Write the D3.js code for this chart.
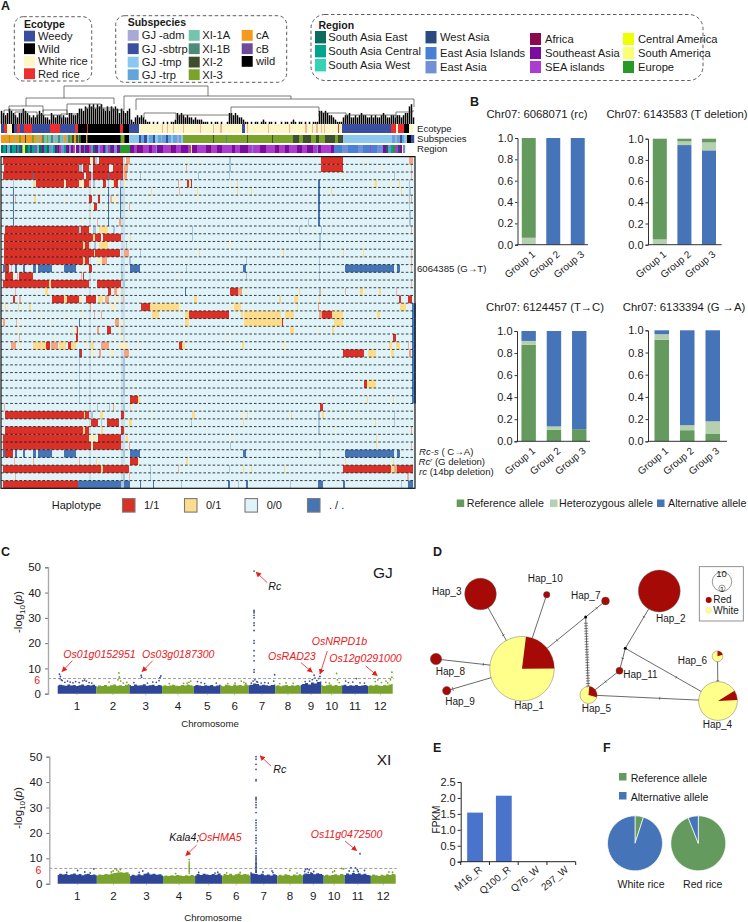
<!DOCTYPE html>
<html>
<head>
<meta charset="utf-8">
<script src="https://cdn.jsdelivr.net/npm/d3@7"></script>
<style>
html,body{margin:0;padding:0;background:#fff;}
svg{display:block;}
text{font-family:"Liberation Sans",Arial,sans-serif;fill:#1a1a1a;}
</style>
</head>
<body>
<div id="fig"></div>
<script>
// panel A legends
var ecotypeNames = ["Weedy","Wild","White rice","Red rice"];
var ecotypeColors = ["#3a4ea0","#000000","#fdf6c8","#ee2e2e"];
var subspeciesNames = ["GJ -adm","GJ -sbtrp","GJ -tmp","GJ -trp","XI-1A","XI-1B","XI-2","XI-3","cA","cB","wild"];
var subspeciesColors = ["#a9a9d8","#3a4ea0","#8cc8ee","#62a4dc","#74c4ae","#4e8a78","#3f4f2c","#7aa32a","#f59a1c","#6f4a9c","#000000"];
var regionNames = ["South Asia East","South Asia Central","South Asia West","West Asia","East Asia Islands","East Asia","Africa","Southeast Asia","SEA islands","Central America","South America","Europe"];
var regionColors = ["#0b6b5c","#00a58c","#35d2b8","#2a4a80","#4880d8","#7090d8","#8a0a50","#7e0ba0","#ac3bd0","#eeff00","#f8ff70","#259a25"];

// annotation strips, run lengths in samples
var ecotypeStrip = "W3 R3 C5 K2 W3 R3 W4 R8 W5 W13 R4 R6 W2 W13 R3 K9 R1 K32 R3 K6 W10 C23 P1 C4 P1 C5 P1 C9 P1 C16 P1 C12 P1 C6 P2 C20 W3 C2 P1 C20 P1 C20 P1 C15 P2 C5 P1 C3 P2 C3 P1 C2 P1 C13 R1 C3 W49 R5 C2 R6 K5 C4";
var subspeciesStrip = "A8 g1 A5 p1 A3 g2 A4 x1 A6 g2 A3 p2 A3 q2 p3 g1 p3 q2 a2 p3 q2 p3 a1 A2 p2 q2 g2 x2 A2 x2 g1 x2 K5 A1 x1 K32 x1 g3 x1 K4 m10 s2 t3 s3 m2 t4 s2 m3 t3 a1 t4 s2 t3 m2 t4 a2 t2 m2 g30 x1 g12 q1 g20 x1 g24 x1 g20 x6 g4 x8 g5 x3 g6 x10 g3 x5 m49 t3 a2 t3 s2 t2 m3 K4 s3";
var regionStrip = "e2 c3 u1 w3 n2 c4 u1 c2 e2 u1 w1 y2 e3 c2 n2 c3 l2 w2 e3 u2 c3 e2 j3 w1 c2 u2 e1 f1 l2 j3 c2 u2 f1 j2 u2 l2 z1 u3 j2 f1 u2 c1 u3 f1 l2 j2 e2 u3 j2 l3 u2 c1 j2 l2 e1 u3 j3 u3 E10 u4 l3 f1 u5 l6 u3 l4 j1 u6 l8 f1 u4 l5 u7 l3 y1 u5 l9 u4 f1 l6 u5 l10 u3 l5 u8 l4 j1 l7 u6 l9 u3 f1 l6 u4 l8 u5 l5 u6 l4 j1 u3 l10 u3 i8 j6 i10 j5 i7 l1 i6 j6 u3 e2 j3 c2 E2 l3 n2 u2 z1 j2";
var ecotypeCodes = {W:"#3a4ea0",K:"#000000",C:"#fdf6c8",R:"#ee2e2e",P:"#f6b59a"};
var subspeciesCodes = {a:"#a9a9d8",s:"#3a4ea0",m:"#8cc8ee",t:"#62a4dc",p:"#74c4ae",q:"#4e8a78",x:"#3f4f2c",g:"#7aa32a",A:"#f59a1c",B:"#6f4a9c",K:"#000000"};
var regionCodes = {e:"#0b6b5c",c:"#00a58c",w:"#35d2b8",n:"#2a4a80",i:"#4880d8",j:"#7090d8",f:"#8a0a50",u:"#7e0ba0",l:"#ac3bd0",y:"#eeff00",z:"#f8ff70",E:"#259a25"};

// dendrogram: stem height per two samples, and merges [from,to,height,leftDrop,rightDrop]
var dendroStems = "654576543557654343465433254344343355445" + "77687989798976868787576567" + "21343432110101001010112" + "5454343323222111" + "0101101001" + "554543321" + "101011012101101001011012101101010111" + "665654432111" + "34453343454433434334543344344" + "3455893";
var dendroMerges = [[63,207,38,26,28],[25,113,26,18,20],[123,290,28,16,25],[8,42,18,12,12],[42,66,14,8,9],[3,22,14,9,8],[66,100,20,9,15],[85,113,16,13,16],[135,413,25,14,17],[230,318,17,8,12],[143,175,11,6,5],[178,230,9,4,6],[318,345,11,8,8],[345,395,9,5,6],[100,123,14,14,16],[395,412,12,6,14],[14,36,12,6,5],[36,60,9,5,6],[60,78,10,5,5]];

// heatmap rows: code start-end in samples
var heatRows = [
"r2-89 q89-92 r92-94 f94-96 r98-122 o125-129 q185-186 q199-200 f228-230 q363-364 r320-342 o408-412",
"r3-78 f78-81 r82-88 r92-108 r112-122 o123-127 p185-186 f228-230 r320-342 q380-381 p410-411",
"r2-32 b32-33 r33-83 r85-90 f90-92 r92-107 b107-108 r108-122 o123-126 f139-140 f197-198 f228-229 q342-343 f393-394 p410-411",
"f12-13 y32-34 r35-63 q63-65 r65-78 q78-83 r83-88 p88-90 f92-94 r102-105 f107-108 y112-113 r113-117 f119-120 q123-125 o177-178 r186-188 q188-190 r190-191 q230-231 y236-237 b317-319 q372-373 y374-376 q390-391 y398-399 f408-409",
"b12-13 b107-108 b119-120 q93-94 q100-101 y150-151 p178-179 y196-197 y236-237 y250-251 b317-319 y330-331 y400-401 f408-410",
"b12-13 p14-15 y33-35 q63-64 r88-91 r97-99 b107-108 q112-116 p109-111 b119-120 q150-151 q197-198 b317-319 f408-409 o410-411",
"b12-13 r93-96 q90-92 q106-107 b107-108 b119-120 p128-129 b317-319 f408-409",
"b12-13 q90-91 b107-108 b119-120 b317-319 f408-410",
"b12-13 q80-81 p96-97 b107-108 o118-120 f307-308 b317-319 f408-410",
"r4-78 f78-80 r80-88 q88-90 f92-95 y98-107 f112-114 f191-192 f298-299 f320-321 p410-411",
"r3-92 y92-94 r94-100 r102-120 y129-130 f191-192 f318-320",
"r3-82 y82-84 r84-88 f93-95 y98-107 f125-126 q228-230 q250-251 f318-320 q362-363",
"r3-93 y93-94 r94-119 o123-128 f139-140 y198-199 y282-283 y342-343 y362-363 p410-411",
"r3-82 y82-84 r84-88 q96-101 o101-106 f128-130 f245-246 f318-319 p410-411",
"b2-4 r4-8 p10-11 b14-16 b22-24 b32-35 b37-51 b63-75 r88-91 f120-121 b129-139 f185-186 b242-245 f318-319 b344-393 b396-399 p410-411",
"r4-12 q12-13 p16-17 r18-32 p80-81 r82-83 f120-122 q178-179 f245-246 f318-319",
"r2-48 y48-50 r50-88 r96-120 f122-124 p410-411",
"p14-15 q33-34 y44-47 r107-110 o113-116 q118-120 b184-185 r229-237 o237-241 q244-245 y298-299 f318-320 q320-322 p344-345 y359-362 q363-364 y378-380 p395-396",
"r12-14 p18-20 r51-63 y63-66 r66-78 q78-82 r85-95 y97-102 o104-108 q115-118 p122-123 y193-196 y278-280 y293-297 y318-319 r398-400 r407-411",
"y4-5 q8-9 y17-18 y28-30 o89-90 q110-115 r140-149 y149-178 q178-180 q230-232 y233-240 y296-297 o317-318 y399-405 b411-415",
"q8-9 q38-39 q65-66 q80-82 p93-94 o100-101 y151-158 y184-188 r188-228 y240-242 y243-280 y284-293 o318-321 r321-331 y331-342 y376-379 b411-415",
"o2-4 p15-16 q20-21 q50-51 b78-79 o114-118 q120-122 y184-188 y243-281 r281-282 y333-342 b411-415",
"q16-18 q70-72 p75-76 r76-77 o96-98 r106-110 q118-120 y289-293 q318-319 y331-333 b411-415",
"p18-19 q52-53 r75-77 q120-122 q228-229 r392-395 b411-415",
"o10-15 q18-20 y32-45 r45-49 o50-57 y58-65 r67-70 y70-75 q85-87 y90-93 o100-108 q118-127 q137-138 r178-181 y181-184 y241-243 q282-285 y388-391 y395-399 p407-408 b411-415",
"b78-79 r79-81 q90-93 o98-100 q110-113 o123-128 r342-363 y367-375 y390-393 o408-410 b411-415",
"f78-79 f122-124 b411-415",
"f78-79 f122-124 b411-415",
"f78-79 f122-124 b411-415",
"f78-79 f122-124 r363-366 y366-375 b411-415",
"f78-79 f122-124 b411-415",
"f78-79 r129-137 y137-139 y366-367 y392-393 b411-415",
"p3-4 f96-97 f108-109 o112-113 f122-124 y129-130 r319-322",
"r4-83 y83-84 r84-88 f90-92 y99-102 r120-123 q150-151 f191-192 y191-194 q240-242 y246-247 y290-291 f317-319 y321-323 q344-345 q358-359 f393-394",
"r90-97 f100-101 r106-118 y128-131 f190-191 y242-243 f317-319 y374-375 f393-394",
"r4-82 y82-84 r84-88 y100-102 r120-123 f317-319 q333-334 o410-411",
"r2-88 q88-96 r97-120 y125-127 q232-233 y375-376",
"r2-90 q90-92 r92-120 o128-129 f229-230 y375-376 p410-411",
"b2-4 r4-12 b14-16 b22-24 b32-35 b37-51 b63-75 f122-124 b129-139 b242-245 f318-320 b344-393 b396-399",
"p13-14 p32-33 p78-79 y95-96 r129-137 q137-139 y185-187 y344-345 y392-393",
"r2-100 y100-102 r102-128 f149-150 p177-178 f228-229 y242-243 y250-251 y283-284 r342-390 y390-393 o393-396 r396-412",
"p14-15 f122-124 p128-129 f149-150 p406-408",
"r2-77 b77-120 f120-123 b123-129 b139-140 b152-153 f180-181 b227-229 f237-238 b245-247 f289-290 b317-322 b342-344 f400-401 b407-412"
];
var heatCodes = {r:"#d93027",y:"#fddc8c",q:"#f8efc8",p:"#eeb4a6",o:"#f4a582",b:"#4575b4",f:"#a8c6dc"};
var fadedColumns = [[120,124],[88,90]];
var haplotypeLabels = ["1/1","0/1","0/0",". / ."];
var haplotypeColors = ["#d93027","#fddc8c","#e0f3f8","#4575b4"];

// panel B
var groupNames = ["Group 1","Group 2","Group 3"];
var alleleTitles = ["Chr07: 6068071 (rc)","Chr07: 6143583 (T deletion)","Chr07: 6124457 (T\u2192C)","Chr07: 6133394 (G \u2192A)"];
var refShare = [[0.935,0,0],[0.95,0.025,0.035],[0.875,0.105,0.11],[0.915,0.10,0.07]];
var hetShare = [[0.065,0,0],[0.05,0.035,0.075],[0.035,0.03,0],[0.05,0.045,0.11]];
var altShare = [[0,1,1],[0,0.94,0.89],[0.09,0.865,0.89],[0.035,0.855,0.82]];
var stackOrders = [["alt","het","ref"],["alt","het","ref"],["ref","het","alt"],["ref","het","alt"]];
var alleleColors = {ref:"#649a5e",het:"#b5d0ae",alt:"#4674b8"};
var alleleLegend = ["Reference  allele","Heterozygous allele","Alternative allele"];

// panel C
var chromNames = ["1","2","3","4","5","6","7","8","9","10","11","12"];
var chromLengths = [43.3,36.8,36.4,35.5,29.9,31.2,29.7,28.4,23,23.2,29,27.5];
var gjMass = [
[3.2,3.5,3.3,3.1,3.6,3.2,3.4,3.0,3.3,3.6,3.1,3.4,3.2,3.5,3.0],
[2.8,3.2,3.0,3.4,2.9,3.3,3.6,3.1,3.3,3.0,3.5,3.8],
[3.4,3.0,3.6,3.2,3.3,3.7,3.1,3.3,3.5,3.0,3.4,3.2],
[2.9,3.3,3.0,3.2,3.5,3.1,3.0,3.4,3.2,3.6,3.3,2.9],
[3.0,3.4,3.2,3.0,3.3,3.1,3.4,2.9,3.2,3.5],
[3.2,2.9,3.5,3.3,3.0,3.6,3.2,3.4,3.1,3.7,3.3],
[3.3,3.5,4.0,3.8,3.2,3.5,3.3,3.1,3.4,3.6],
[3.0,3.3,2.9,3.2,3.4,3.0,3.3,3.1,3.4,3.0],
[3.5,3.8,4.2,3.6,4.4,4.0,4.6,4.8],
[3.4,3.0,3.3,3.6,3.1,3.4,3.0,3.3],
[3.2,3.5,3.0,3.3,3.1,3.4,3.0,3.2,3.4,3.1],
[3.0,3.3,3.1,3.5,3.2,3.0,3.4,3.2,3.6,3.8]
];
var gjPoints = [[1,2,7.7],[1,3,6.8],[1,2.5,6],[1,4,5.5],[1,5,5.2],[1,8,4.5],[1,11,5],[1,14,4.6],[1,17,4.3],[1,20,4.8],[1,24,4.4],[1,28,5.1],[1,30,5.4],[1,32,5],[1,35,4.4],[1,38,4.2],
[2,25,8.2],[2,25.5,6.6],[2,27,5],[2,24,5.5],[2,14,4.6],[2,30,4.2],[2,34,4.5],
[3,13,7.2],[3,13.5,6.5],[3,35,7],[3,34,6.3],[3,33,5.2],[3,26,4.6],[3,5,4.4],[3,20,4.2],[3,30,4.5],
[4,32,5],[4,30,4.5],[4,28,4.2],[4,8,4],[4,24,4.1],
[5,4,4.8],[5,8,4.4],[5,25,4.2],[5,12,4],
[6,23,5],[6,8,4],[6,26,4.5],[6,16,4.2],[6,28,4.1],
[7,6.07,48.5],[7,6.07,33],[7,6.07,32.5],[7,6.07,32],[7,6.07,31],[7,6.07,30],[7,6.07,28],[7,6.07,27],[7,6.07,25],[7,6.07,21],[7,6.07,20],[7,6.07,17],[7,6.07,15],[7,6.07,13],[7,6.07,9.5],[7,6.07,8.5],
[7,7,5.5],[7,5,5],[7,3,4.2],[7,9,4.8],[7,10,4.6],[7,14,4.2],[7,18,4.4],[7,29,7.5],[7,28,5],[7,22,4.2],
[8,12,4.3],[8,20,4.1],[8,5,4],
[9,15,7.3],[9,21.5,6.8],[9,16,6.2],[9,20,6],[9,10,5],[9,5,4.8],[9,18,5.2],[9,13,5.6],
[10,17,8],[10,18,5.5],[10,5,4.5],[10,9,4.2],[10,20,4.4],
[11,16,6],[11,4,5],[11,7,4.4],[11,20,4.3],[11,12,4.6],[11,25,4.2],
[12,26.6,8.5],[12,26.6,6.5],[12,25,5.5],[12,8,4.8],[12,11,5.5],[12,15,4.4],[12,20,5],[12,22,4.3]];
var xiMass = [
[3.4,3.9,3.6,3.8,3.4,3.7,4.0,3.5,3.8,3.3,3.7,3.9,3.4,3.6,3.3],
[3.2,3.6,3.4,3.8,3.6,4.0,4.2,4.4,4.5,4.3,4.5,3.8],
[3.0,3.5,3.2,3.7,3.3,3.9,4.1,3.6,3.9,3.5,3.7,3.2],
[2.9,3.2,3.0,3.3,3.1,3.4,3.2,3.0,3.3,3.1,3.4,3.0],
[3.2,3.8,3.4,3.9,3.6,3.4,3.8,3.5,4.0,3.3],
[3.1,3.8,3.4,3.9,3.3,3.7,4.0,3.5,3.8,3.6,3.2],
[4.5,4.0,3.8,3.5,3.9,3.3,3.6,3.2,3.7,3.4],
[3.0,3.5,3.2,3.7,3.4,3.1,3.6,3.3,3.7,3.2],
[3.6,4.0,3.8,4.2,3.7,4.1,3.8,3.4],
[3.1,3.5,3.2,3.4,3.7,3.3,3.8,3.5],
[3.4,4.0,3.6,4.2,3.8,4.1,3.6,3.9,3.4,3.2],
[3.1,3.6,3.3,3.0,3.5,3.2,3.7,3.4,3.9,3.6]
];
var xiPoints = [[1,22,5.2],[1,40,5.8],[1,10,4.4],[1,30,4.6],[1,36,4.3],
[2,20,5.9],[2,22,5.4],[2,18,5],[2,24,4.8],[2,26,5.6],[2,16,4.6],
[3,14,5],[3,10,4.4],[3,20,4.2],
[4,29,9.5],[4,29,8.5],[4,29,7.8],[4,29,7.2],[4,29,6.6],[4,29,6],[4,29,5.4],[4,29,4.8],[4,29,4.2],[4,14,4],
[5,25,4.5],[5,4,4.4],[5,22,4.2],
[6,5,4.3],[6,20,4.4],
[7,6.3,50],[7,6.3,49],[7,6.3,47],[7,6.3,45],[7,6.3,41],[7,6.3,40.5],[7,6.3,34],[7,6.3,33.5],[7,6.3,33],[7,6.3,32],[7,6.3,31],[7,6.3,30],[7,6.3,28],[7,6.3,25],[7,6.3,24],[7,6.3,23],[7,6.3,22],[7,6.3,21],[7,6.3,19],[7,6.3,18],[7,6.3,17],[7,6.3,16],[7,6.3,14],[7,6.3,13],[7,6.3,12],[7,6.3,11],[7,6.3,10.5],[7,6.3,10],[7,6.3,9.5],[7,6.3,9],[7,6.3,8.5],[7,6.3,8],[7,6.3,7.5],[7,6.3,7],[7,6.3,6.5],[7,6.3,6],[7,6.3,5.5],[7,6.3,5],[7,6.3,4.5],[7,6.5,8],[7,6.5,6.5],[7,6.5,5],[7,6.5,4.5],[7,14,4.6],[7,24,5],[7,25,4.4],
[8,14,5.2],[8,22,4.2],
[9,3,5.6],[9,5,5.8],[9,7,5.5],[9,2,4.8],[9,6,4.4],[9,12,4.8],[9,9,4.3],
[10,10,4.6],[10,12,5],[10,20,6],[10,22,5.8],
[11,5,5],[11,7,6.3],[11,12,6.2],[11,14,5.5],[11,15,4.8],[11,17,11.8],[11,22,5.2],[11,10,4.8],
[12,20,4.6],[12,24,4.5]];

// panel D network
var hapNames = ["Hap_1","Hap_2","Hap_3","Hap_4","Hap_5","Hap_6","Hap_7","Hap_8","Hap_9","Hap_10","Hap_11","j1","j2"];
var hapX = [102,239.3,60.5,298,168.5,297.5,185.5,16,26.7,126.7,199.5,165.7,205.3];
var hapY = [123.7,46,49,156,150,111.3,56,114,145.7,49.7,125.7,72,103.3];
var hapCounts = [100,42,24,36,7,2.8,1.5,3.1,1.7,1,1.2,0,0];
var hapRedShare = [0.23,1,1,0.08,0.28,0.2,1,1,1,1,1,1,1];
var hapRedStart = [7,0,0,58,5,0,0,0,0,0,0,0,0];
var hapLinks = [[2,0,1],[9,0,0],[7,0,1],[8,0,2],[0,11,1],[11,6,1],[11,4,26],[4,10,1],[10,12,1],[12,1,1],[12,3,1],[4,3,1],[5,3,1]];

// panel E, F
var fpkmNames = ["M16_R","Q100_R","Q76_W","297_W"];
var fpkmValues = [1.54,2.07,0,0];
var pieNames = ["White rice","Red rice"];
var pieRef = [[0.05,0.95],[0.94,0.06]];
var pieColors = [["#649a5e","#4674b8"],["#649a5e","#4674b8"]];

var svg = d3.select("#fig").append("svg").attr("width",748).attr("height",922);

function label(x,y,str,size,opts){
    opts = opts || {};
    return svg.append("text").attr("x",x).attr("y",y).style("font-size",size+"px")
        .style("font-weight",opts.bold?"bold":null)
        .style("font-style",opts.italic?"italic":null)
        .style("fill",opts.fill||null)
        .attr("text-anchor",opts.anchor||"start")
        .text(str);
}

// panel letters
[["A",1,10],["B",470,106],["C",1,556],["D",433,556],["E",433,752],["F",603,752]].forEach(function(d){
    label(d[1],d[2],d[0],12.5,{bold:true});
});

// legend boxes
function dashedBox(x,y,w,h,r){
    svg.append("rect").attr("x",x).attr("y",y).attr("width",w).attr("height",h).attr("rx",r).attr("ry",r)
        .style("fill","none").style("stroke","#333").style("stroke-width",0.8).style("stroke-dasharray","3.5,2.5");
}
function swatchColumn(names,colors,x,textX,ys,size){
    names.forEach(function(n,i){
        svg.append("rect").attr("x",x).attr("y",ys[i]).attr("width",11).attr("height",size)
            .style("fill",colors[i]);
        label(textX,ys[i]+size/2+3.8,n,11.2);
    });
}
dashedBox(14.3,16.7,77.4,64.3,9);
label(24,27.5,"Ecotype",10.5,{bold:true});
swatchColumn(ecotypeNames,ecotypeColors,24,38,[30.7,43.3,56,68.3],10.8);
dashedBox(115.7,15.7,171,66.6,9);
label(127.7,25.7,"Subspecies",10.5,{bold:true});
swatchColumn(subspeciesNames.slice(0,4),subspeciesColors.slice(0,4),127.7,141.7,[30,43.3,56.7,69.3],10.8);
swatchColumn(subspeciesNames.slice(4,8),subspeciesColors.slice(4,8),188.7,202.3,[30,43.3,56.7,69.3],10.8);
swatchColumn(subspeciesNames.slice(8),subspeciesColors.slice(8),241.7,256,[30,43.3,56],10.8);
dashedBox(311,14.5,392,66,14);
label(318.5,29,"Region",10.5,{bold:true});
swatchColumn(regionNames.slice(0,3),regionColors.slice(0,3),315,328.3,[31,45,59],12.4);
swatchColumn(regionNames.slice(3,6),regionColors.slice(3,6),425.5,440,[31,47,61],12.4);
swatchColumn(regionNames.slice(6,9),regionColors.slice(6,9),530,545,[33,47,61],12);
swatchColumn(regionNames.slice(9),regionColors.slice(9),623,638,[33,47,61],12);

// sample scale shared by dendrogram, strips and heatmap
var sampleX = d3.scaleLinear().domain([0,414]).range([1,415]);

// dendrogram
var dendroY = d3.scaleLinear().domain([0,40]).range([124,84]);
var stems = dendroStems.split("").map(function(c,i){return {s:i*2,h:+c*2.2};});
svg.append("g").selectAll("line").data(stems).enter().append("line")
    .attr("x1",function(d){return sampleX(d.s)+0.5;}).attr("x2",function(d){return sampleX(d.s)+0.5;})
    .attr("y1",dendroY(0)).attr("y2",function(d){return dendroY(d.h);})
    .style("stroke","#000").style("stroke-width",1.5);
var merges = svg.append("g").style("fill","none").style("stroke","#444").style("stroke-width",0.7);
merges.selectAll("path").data(dendroMerges).enter().append("path")
    .attr("d",function(d){
        return "M"+sampleX(d[0])+","+dendroY(d[3])+"V"+dendroY(d[2])+"H"+sampleX(d[1])+"V"+dendroY(d[4]);
    });

// annotation strips
function parseRuns(str){
    var pos = 0, out = [];
    str.split(" ").forEach(function(tok){
        var n = +tok.slice(1);
        out.push({c:tok[0],s:pos,e:pos+n});
        pos += n;
    });
    return out;
}
function strip(str,codes,y,h){
    svg.append("g").selectAll("rect").data(parseRuns(str)).enter().append("rect")
        .attr("x",function(d){return sampleX(d.s);}).attr("y",y)
        .attr("width",function(d){return sampleX(d.e)-sampleX(d.s)+0.2;}).attr("height",h)
        .style("fill",function(d){return codes[d.c];});
}
strip(ecotypeStrip,ecotypeCodes,124,9);
strip(subspeciesStrip,subspeciesCodes,135,8);
strip(regionStrip,regionCodes,145,8);
label(417,131.5,"Ecotype",9.6);
label(417,141.5,"Subspecies",9.6);
label(417,152,"Region",9.6);

// heatmap
var heatY = d3.scaleLinear().domain([0,43]).range([156.6,488.3]);
var heat = svg.append("g");
heat.append("rect").attr("x",sampleX(0)).attr("y",heatY(0)).attr("width",sampleX(414)-sampleX(0)).attr("height",heatY(43)-heatY(0)).style("fill","#e0f3f8");
heat.selectAll(".band").data(fadedColumns).enter().append("rect")
    .attr("x",function(d){return sampleX(d[0]);}).attr("y",heatY(0))
    .attr("width",function(d){return sampleX(d[1])-sampleX(d[0]);}).attr("height",heatY(43)-heatY(0))
    .style("fill","#cbe0ea");
var heatSegs = [];
heatRows.forEach(function(row,i){
    row.split(" ").forEach(function(tok){
        var p = tok.slice(1).split("-");
        heatSegs.push({row:i,c:tok[0],s:+p[0],e:+p[1]});
    });
});
heat.selectAll(".seg").data(heatSegs).enter().append("rect")
    .attr("x",function(d){return sampleX(d.s);}).attr("y",function(d){return heatY(d.row);})
    .attr("width",function(d){return sampleX(d.e)-sampleX(d.s);}).attr("height",heatY(1)-heatY(0))
    .style("fill",function(d){return heatCodes[d.c];});
heat.selectAll(".div").data(d3.range(1,43)).enter().append("line")
    .attr("x1",sampleX(0)).attr("x2",sampleX(414))
    .attr("y1",function(d){return heatY(d);}).attr("y2",function(d){return heatY(d);})
    .style("stroke","#111").style("stroke-width",0.8).style("stroke-dasharray","2.6,2");
heat.append("rect").attr("x",sampleX(0)).attr("y",heatY(0)).attr("width",sampleX(414)-sampleX(0)).attr("height",heatY(43)-heatY(0))
    .style("fill","none").style("stroke","#111").style("stroke-width",1.2);

label(417,271.5,"6064385 (G\u2192T)",9.6);
var rcS = label(419,455,"",9.6);
rcS.append("tspan").style("font-style","italic").text("Rc-s");
rcS.append("tspan").text(" ( C\u2192A)");
var rcG = label(418.5,464.5,"",9.6);
rcG.append("tspan").style("font-style","italic").text("Rc");
rcG.append("tspan").attr("dy",-3).style("font-size","6px").style("font-style","italic").text("r");
rcG.append("tspan").attr("dy",3).text("  (G deletion)");
var rcD = label(419,474.5,"",9.6);
rcD.append("tspan").style("font-style","italic").text("rc");
rcD.append("tspan").text("  (14bp deletion)");

// haplotype legend
label(51.7,508.5,"Haplotype",11);
[[122.5,144],[184.5,206],[245,266.7],[307.5,329]].forEach(function(d,i){
    svg.append("rect").attr("x",d[0]).attr("y",498.6).attr("width",12.5).attr("height",13.5)
        .style("fill",haplotypeColors[i]).style("stroke","#7a7a7a").style("stroke-width",1.1);
    label(d[1],508.5,haplotypeLabels[i],11);
});

// panel B stacked bars
var barPanels = [
    {left:516.5,axisEnd:588,y0:244.7,y1:138,titleX:537,titleY:118},
    {left:648,axisEnd:721.7,y0:244.7,y1:138.7,titleX:677,titleY:118},
    {left:516,axisEnd:590,y0:441.3,y1:331,titleX:545,titleY:311},
    {left:648,axisEnd:727,y0:441.3,y1:330.3,titleX:684,titleY:311}
];
var barSteps = [24.5,24.6,25.3,25.5];
barPanels.forEach(function(p,i){
    var g = svg.append("g");
    label(p.titleX,p.titleY,alleleTitles[i],11.3,{anchor:"middle"});
    var step = barSteps[i];
    var x = d3.scaleBand().domain(groupNames)
        .range([p.left+ (i==1?-0.5:0) + (i==3?1:0), p.left+(i==1?-0.5:0)+(i==3?1:0)+step*3]).paddingInner(0.43).paddingOuter(0.215);
    var y = d3.scaleLinear().domain([0,1]).range([p.y0,p.y1]);
    var rows = groupNames.map(function(n,k){
        return {group:n,ref:refShare[i][k],het:hetShare[i][k],alt:altShare[i][k]};
    });
    var stack = d3.stack().keys(stackOrders[i])(rows);
    stack.forEach(function(layer){
        g.append("g").selectAll("rect").data(layer).enter().append("rect")
            .attr("x",function(d){return x(d.data.group);})
            .attr("y",function(d){return y(d[1]);})
            .attr("width",x.bandwidth())
            .attr("height",function(d){return y(d[0])-y(d[1]);})
            .style("fill",alleleColors[layer.key]);
    });
    var yAxis = g.append("g").attr("transform","translate("+(i%2==0?p.left+1:p.left)+",0)")
        .call(d3.axisLeft(y).tickValues([0,0.2,0.4,0.6,0.8,1]).tickFormat(d3.format(".1f")).tickSize(2.5));
    yAxis.selectAll("text").style("font-size","11px").attr("dx","1");
    yAxis.selectAll("line,path").style("stroke","#333");
    g.append("line").attr("x1",p.left).attr("x2",p.axisEnd).attr("y1",p.y0).attr("y2",p.y0)
        .style("stroke","#333").style("stroke-width",1);
    g.selectAll(".grp").data(groupNames).enter().append("text")
        .attr("text-anchor","end")
        .attr("transform",function(d){return "translate("+(x(d)+x.bandwidth()/2+5)+","+(p.y0+8)+") rotate(-40)";})
        .attr("dy","0.35em")
        .style("font-size","10px")
        .text(function(d){return d;});
});
[[456.7,466.7,"ref"],[550,559,"het"],[657,668,"alt"]].forEach(function(d,i){
    svg.append("rect").attr("x",d[0]).attr("y",499.5).attr("width",7.5).attr("height",7.5).style("fill",alleleColors[d[2]]);
    label(d[1],507,alleleLegend[i],10.7);
});

// panel C manhattan plots
function manhattan(cfg){
    var total = d3.sum(chromLengths);
    var starts = d3.cumsum([0].concat(chromLengths));
    var x = d3.scaleLinear().domain([0,total]).range([cfg.x0,cfg.x1]);
    var y = d3.scaleLinear().domain([0,50]).range([cfg.y0,cfg.y50]);
    var g = svg.append("g");
    var colorOf = function(c){return c%2==0 ? "#3c4f9c" : "#7aa32e";};
    cfg.mass.forEach(function(env,c){
        var pts = env.map(function(v,k){
            return {pos:starts[c]+chromLengths[c]*k/(env.length-1),v:v};
        });
        g.append("path").datum(pts)
            .attr("d",d3.area().curve(d3.curveStep)
                .x(function(d){return x(d.pos);}).y0(y(0)).y1(function(d){return y(d.v);}))
            .style("fill",c%2==0 ? "#2f4596" : "#7aa32e");
    });
    g.append("g").selectAll("circle").data(cfg.points).enter().append("circle")
        .attr("cx",function(d){return x(starts[d[0]-1]+d[1]);})
        .attr("cy",function(d){return y(d[2]);})
        .attr("r",0.9)
        .style("fill",function(d){return colorOf(d[0]-1);});
    g.append("line").attr("x1",cfg.axisX).attr("x2",cfg.x1+1).attr("y1",y(6)).attr("y2",y(6))
        .style("stroke","#777").style("stroke-width",0.7).style("stroke-dasharray","3,2");
    var yAxis = g.append("g").attr("transform","translate("+cfg.axisX+",0)")
        .call(d3.axisLeft(y).tickValues([0,10,20,30,40,50]).tickSize(3));
    yAxis.select("path").style("stroke","#aaa").style("stroke-width",1.4);
    yAxis.selectAll("line").style("stroke","#777");
    yAxis.selectAll("text").style("font-size","11.5px").attr("dx","-1");
    label(cfg.axisX-8,y(6)+5.5,"6",10.5,{anchor:"end",fill:"#e8201c"});
    chromNames.forEach(function(n,c){
        var mid = x(starts[c]+chromLengths[c]/2);
        g.append("line").attr("x1",mid).attr("x2",mid).attr("y1",y(0)).attr("y2",y(0)+1.5)
            .style("stroke","#777").style("stroke-width",0.5);
        label(mid,y(0)+16.5,n,11.6,{anchor:"middle"});
    });
    label(cfg.xlabelX,cfg.xlabelY,"Chromosome",9.6,{anchor:"middle"});
    var yl = svg.append("text").attr("text-anchor","middle")
        .attr("transform","translate(22,"+cfg.ylabelY+") rotate(-90)").style("font-size","11.5px");
    yl.append("tspan").text("-log");
    yl.append("tspan").attr("dy",2.5).style("font-size","8px").text("10");
    yl.append("tspan").attr("dy",-2.5).text("(");
    yl.append("tspan").style("font-style","italic").text("p");
    yl.append("tspan").text(")");
    label(cfg.tagX,cfg.tagY,cfg.tag,15.5);
}
manhattan({x0:57.7,x1:392.7,y0:693.7,y50:567.3,axisX:48,mass:gjMass,points:gjPoints,xlabelX:210,xlabelY:727,ylabelY:612,tag:"GJ",tagX:373,tagY:578});
manhattan({x0:57.7,x1:395.7,y0:883.7,y50:756.7,axisX:49.3,mass:xiMass,points:xiPoints,xlabelX:213,xlabelY:921,ylabelY:808,tag:"XI",tagX:376.7,tagY:765});

// gene labels and arrows
svg.append("defs").append("marker").attr("id","arrowRed").attr("viewBox","0 0 6 6").attr("refX",5.5).attr("refY",3)
    .attr("markerWidth",5.5).attr("markerHeight",5.5).attr("markerUnits","userSpaceOnUse").attr("orient","auto")
    .append("path").attr("d","M0,0L6,3L0,6Z").style("fill","#e8201c");
var geneLabels = [
    ["Os01g0152951",63.3,657.7,"#e8201c"],["Os03g0187300",142,657.7,"#e8201c"],["OsRAD23",268,660.3,"#e8201c"],
    ["OsNRPD1b",311.7,645,"#e8201c"],["Os12g0291000",329.3,661.7,"#e8201c"],["Rc",268.3,589.7,"#111"],
    ["Kala4;",169.3,840.7,"#111"],["OsHMA5",198.7,840.7,"#e8201c"],["Os11g0472500",310.7,838,"#e8201c"],["Rc",273.3,772.7,"#111"]
];
geneLabels.forEach(function(d){ label(d[1],d[2],d[0],10.6,{italic:true,fill:d[3]}); });
var arrows = [[72.3,660.7,62,671.7],[152.7,660.7,142,671.7],[301,662.7,312.3,672.3],[327.3,651,320,674],[365.7,666,377.3,675.7],[267.3,582.7,256,572],
    [196.7,845,185.7,855.7],[345,841,356.7,850.7],[271,766,260,755.7]];
svg.append("g").selectAll("line").data(arrows).enter().append("line")
    .attr("x1",function(d){return d[0];}).attr("y1",function(d){return d[1];})
    .attr("x2",function(d){return d[2];}).attr("y2",function(d){return d[3];})
    .attr("marker-end","url(#arrowRed)")
    .style("stroke","#e8201c").style("stroke-width",0.8);

// panel D haplotype network
var netX = d3.scaleLinear().domain([0,328]).range([420,748]);
var netY = d3.scaleLinear().domain([0,190]).range([545,735]);
var netR = d3.scaleSqrt().domain([0,100]).range([0,32.3]);
var net = svg.append("g");
hapLinks.forEach(function(l){
    var a = l[0], b = l[1];
    var x1 = netX(hapX[a]), y1 = netY(hapY[a]), x2 = netX(hapX[b]), y2 = netY(hapY[b]);
    net.append("line").attr("x1",x1).attr("y1",y1).attr("x2",x2).attr("y2",y2)
        .style("stroke","#444").style("stroke-width",0.8);
    var len = Math.hypot(x2-x1,y2-y1), ux = (x2-x1)/len, uy = (y2-y1)/len;
    // hatch marks, one per mutation
    d3.range(l[2]).forEach(function(k){
        var t = l[2]==1 ? 0.55 : 0.08+0.84*k/(l[2]-1);
        var cx = x1+(x2-x1)*t, cy = y1+(y2-y1)*t, w = l[2]==1 ? 1.4 : 2;
        net.append("line").attr("x1",cx-uy*w).attr("y1",cy+ux*w).attr("x2",cx+uy*w).attr("y2",cy-ux*w)
            .style("stroke","#333").style("stroke-width",0.6);
    });
});
var hapArc = d3.arc().innerRadius(0);
hapNames.forEach(function(n,i){
    var cx = netX(hapX[i]), cy = netY(hapY[i]);
    if (hapCounts[i]==0){
        net.append("circle").attr("cx",cx).attr("cy",cy).attr("r",1.5).style("fill","#000");
        return;
    }
    var r = netR(hapCounts[i]);
    var node = net.append("g").attr("transform","translate("+cx+","+cy+")");
    node.append("circle").attr("r",r).style("fill",hapRedShare[i]==1?"#a50a06":"#ffff8c").style("stroke","#555").style("stroke-width",0.4);
    if (hapRedShare[i]<1){
        var a0 = hapRedStart[i]*Math.PI/180;
        node.append("path").attr("d",hapArc({outerRadius:r,startAngle:a0,endAngle:a0+hapRedShare[i]*2*Math.PI})).style("fill","#a50a06");
    }
});
var hapLabelAt = {"Hap_1":[94.3,164],"Hap_2":[236,77],"Hap_3":[12,50],"Hap_4":[282.7,183.3],"Hap_5":[161.7,167.3],"Hap_6":[257.7,119.3],"Hap_7":[151,53.7],"Hap_8":[15.7,130],"Hap_9":[25.3,159.7],"Hap_10":[107.7,37.3],"Hap_11":[203.3,132.7]};
Object.keys(hapLabelAt).forEach(function(k){
    label(netX(hapLabelAt[k][0]),netY(hapLabelAt[k][1]),k,10);
});
// size key
svg.append("rect").attr("x",699.3).attr("y",566.7).attr("width",44).attr("height",54.3).style("fill","#fff").style("stroke","#777").style("stroke-width",0.8);
svg.append("circle").attr("cx",722).attr("cy",581.7).attr("r",9.7).style("fill","none").style("stroke","#555").style("stroke-width",0.6);
svg.append("circle").attr("cx",722).attr("cy",588.3).attr("r",3.2).style("fill","none").style("stroke","#555").style("stroke-width",0.6);
label(721.5,577,"10",9.5,{anchor:"middle"});
label(722,591.5,"1",8,{anchor:"middle"});
svg.append("circle").attr("cx",708.7).attr("cy",600).attr("r",3).style("fill","#a50a06");
svg.append("circle").attr("cx",708.7).attr("cy",610.3).attr("r",3).style("fill","#ffff8c").style("stroke","#ccc").style("stroke-width",0.3);
label(713.3,603.3,"Red",10);
label(713.3,613.7,"White",10);

// panel E bars
var fpkmX = d3.scaleBand().domain(fpkmNames).range([460.7,575.7]).paddingInner(0.45).paddingOuter(0.225);
var fpkmY = d3.scaleLinear().domain([0,2.5]).range([861.7,782]);
svg.append("g").selectAll("rect").data(fpkmValues).enter().append("rect")
    .attr("x",function(d,i){return fpkmX(fpkmNames[i]);})
    .attr("y",function(d){return fpkmY(d);})
    .attr("width",fpkmX.bandwidth())
    .attr("height",function(d){return fpkmY(0)-fpkmY(d);})
    .style("fill","#4a74cc");
var fpkmAxis = svg.append("g").attr("transform","translate(460.7,0)")
    .call(d3.axisLeft(fpkmY).tickValues([0,0.5,1,1.5,2,2.5]).tickFormat(function(d){return d==0?"0":d3.format(".1f")(d);}).tickSize(3));
fpkmAxis.selectAll("text").style("font-size","11px").attr("dx","1");
fpkmAxis.selectAll("path,line").style("stroke","#222");
svg.append("line").attr("x1",460.7).attr("x2",575.7).attr("y1",861.7).attr("y2",861.7).style("stroke","#222");
d3.range(5).forEach(function(k){
    var tx = 460.7+k*28.75;
    svg.append("line").attr("x1",tx).attr("x2",tx).attr("y1",861.7).attr("y2",865).style("stroke","#222");
});
svg.selectAll(".fk").data(fpkmNames).enter().append("text")
    .attr("text-anchor","end")
    .attr("transform",function(d){return "translate("+(fpkmX(d)+fpkmX.bandwidth()/2+5.5)+",868) rotate(-40)";})
    .attr("dy","0.35em")
    .style("font-size","10px")
    .text(function(d){return d;});
svg.append("text").attr("text-anchor","middle").attr("transform","translate(440,819.5) rotate(-90)").style("font-size","10px").text("FPKM");

// panel F pies
[[635,843.3],[698.3,843.3]].forEach(function(c,i){
    var pie = d3.pie().sort(null)(pieRef[i]);
    var arc = d3.arc().innerRadius(0).outerRadius(27.5);
    svg.append("g").attr("transform","translate("+c[0]+","+c[1]+")")
        .selectAll("path").data(pie).enter().append("path")
        .attr("d",arc)
        .style("fill",function(d,k){return pieColors[i][k];})
        .style("stroke","#fff").style("stroke-width",0.7);
    label(c[0]+(i==0?6:4.5),888,pieNames[i],10.6,{anchor:"middle"});
});
[["#649a5e",773,"Reference  allele"],["#4674b8",792,"Alternative allele"]].forEach(function(d){
    svg.append("rect").attr("x",619).attr("y",d[1]).attr("width",7.5).attr("height",7.5).style("fill",d[0]);
    label(630.7,d[1]+8.5,d[2],10.6);
});
</script>
</body>
</html>
